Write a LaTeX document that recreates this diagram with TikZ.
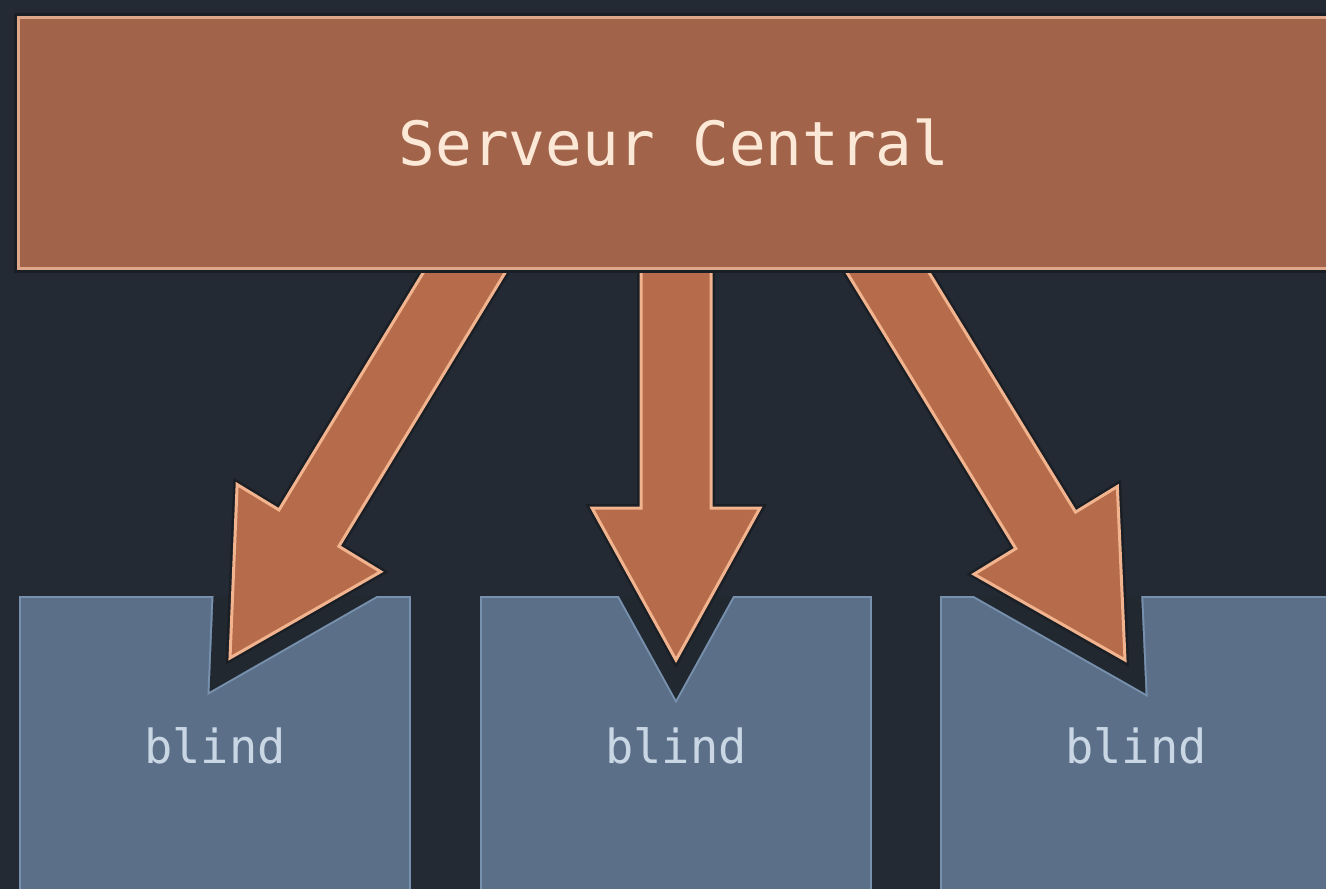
\documentclass[tikz,border=0pt]{standalone}
\usepackage{fontspec}
\setmonofont{DejaVu Sans Mono}
\usetikzlibrary{calc}
\definecolor{bg}{HTML}{242A33}
\definecolor{halo}{HTML}{222830}
\definecolor{rim}{HTML}{1A1E25}
\definecolor{srvfill}{HTML}{A1634A}
\definecolor{srvedge}{HTML}{DFA88B}
\definecolor{srvtext}{HTML}{FBE8D6}
\definecolor{arrfill}{HTML}{B66C4A}
\definecolor{arredge}{HTML}{F2B48E}
\definecolor{boxfill}{HTML}{5B6F88}
\definecolor{boxedge}{HTML}{7690AD}
\definecolor{boxtext}{HTML}{C9D6E4}
\newcommand{\arrowpoly}[3]{($(#1)!35pt!90:(#2)$) -- ($(#3)!35pt!90:(#2)$) -- ($(#3)!84pt!90:(#2)$) -- (#2) -- ($(#3)!84pt!-90:(#2)$) -- ($(#3)!35pt!-90:(#2)$) -- ($(#1)!35pt!-90:(#2)$) -- cycle}
\tikzset{
  server/.style={draw=srvedge, line width=3pt, fill=srvfill, minimum width=1312pt, minimum height=251pt, inner sep=0pt, font=\ttfamily\fontsize{61}{70}\selectfont, text=srvtext, preaction={draw=rim, line width=9pt}},
  clientbox/.style={draw=boxedge, line width=2pt, fill=boxfill, minimum width=390pt, minimum height=298pt, inner sep=0pt, font=\ttfamily\fontsize{47}{56}\selectfont, text=boxtext},
  ring/.style={draw=boxedge, line width=42pt, line join=miter},
  haloline/.style={draw=halo, line width=38pt, line join=miter},
  blockarrow/.style={fill=arrfill, draw=arredge, line width=3pt, line join=miter, preaction={draw=rim, line width=8pt}}
}
\begin{document}
\begin{tikzpicture}[x=1pt,y=-1pt]
\fill[bg] (0,0) rectangle (1326,889);
\useasboundingbox (0,0) rectangle (1326,889);
% client boxes
\node[clientbox] (b1) at (215,746) {blind};
\node[clientbox] (b2) at (676,746) {blind};
\node[clientbox] (b3) at (1136,746) {blind};
% arrow geometry
\coordinate (s1) at (498,217);
\coordinate (t1) at (230,658);
\coordinate (s2) at (676,217);
\coordinate (t2) at (676,660);
\coordinate (s3) at (854,217);
\coordinate (t3) at (1125,660);
\coordinate (h1) at ($(t1)!152pt!(s1)$);
\coordinate (h2) at ($(t2)!152pt!(s2)$);
\coordinate (h3) at ($(t3)!152pt!(s3)$);
% notches in the boxes, only inside the boxes
\begin{scope}
\clip (b1.north west) rectangle (b1.south east) (b2.north west) rectangle (b2.south east) (b3.north west) rectangle (b3.south east);
\path[ring] \arrowpoly{s1}{t1}{h1};
\path[ring] \arrowpoly{s2}{t2}{h2};
\path[ring] \arrowpoly{s3}{t3}{h3};
\path[haloline] \arrowpoly{s1}{t1}{h1};
\path[haloline] \arrowpoly{s2}{t2}{h2};
\path[haloline] \arrowpoly{s3}{t3}{h3};
\end{scope}
% arrows
\path[blockarrow] \arrowpoly{s1}{t1}{h1};
\path[blockarrow] \arrowpoly{s2}{t2}{h2};
\path[blockarrow] \arrowpoly{s3}{t3}{h3};
% server
\node[server] (srv) at (674,142.5) {Serveur Central};
\end{tikzpicture}
\end{document}
